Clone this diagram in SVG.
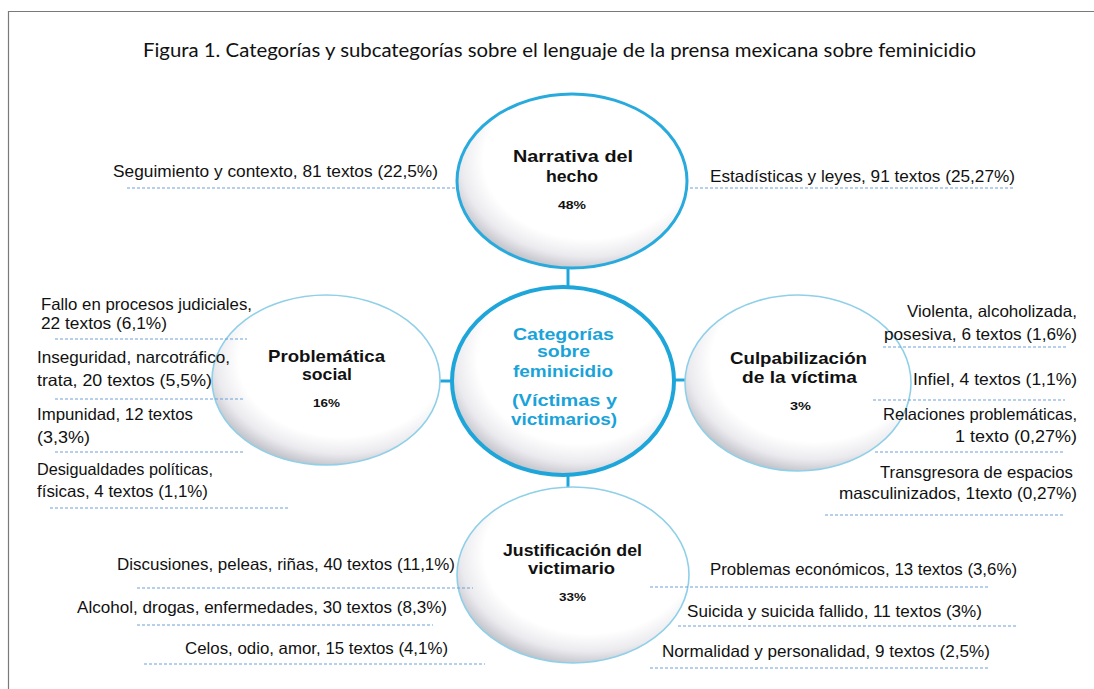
<svg xmlns="http://www.w3.org/2000/svg" width="1094" height="689" viewBox="0 0 1094 689">
<defs>
<radialGradient id="glow" cx="57%" cy="38%" r="63%">
<stop offset="0" stop-color="#ffffff"/>
<stop offset="0.72" stop-color="#ffffff"/>
<stop offset="0.88" stop-color="#ebebef"/>
<stop offset="1" stop-color="#c4c4cc"/>
</radialGradient>
<style>
.frame{fill:none;stroke:#7a7a7a;stroke-width:1.2}
.title{font-family:Lato,"Liberation Sans",sans-serif;font-size:18.5px;fill:#111}
.main{fill:url(#glow);stroke:#1ea6da;stroke-width:4}
.top{fill:url(#glow);stroke:#28aadd;stroke-width:3}
.sub{fill:url(#glow);stroke:#8fd0e8;stroke-width:1.6}
.conn{stroke:#1ea6da;stroke-width:3;fill:none}
.dash{stroke:#6f9fd8;stroke-width:1;stroke-dasharray:3 2;fill:none}
.lbl{font-family:"Liberation Sans",Arial,sans-serif;font-size:16.5px;fill:#111}
.head{font-family:"Liberation Sans",Arial,sans-serif;font-size:17px;font-weight:bold;fill:#111}
.headb{font-family:"Liberation Sans",Arial,sans-serif;font-size:16px;font-weight:bold;fill:#1aa3d9}
.pct{font-family:"Liberation Sans",Arial,sans-serif;font-size:11px;font-weight:bold;fill:#111}
</style>
</defs>
<rect width="1094" height="689" fill="#ffffff"/>
<path class="frame" d="M1094,11.5 H8.5 V689"/>
<text class="title" x="143" y="57" textLength="833" lengthAdjust="spacingAndGlyphs">Figura 1. Categorías y subcategorías sobre el lenguaje de la prensa mexicana sobre feminicidio</text>

<g id="subline-lines">
<line class="dash" x1="127" y1="188" x2="458" y2="188"/>
<line class="dash" x1="675" y1="188" x2="1013" y2="188"/>
</g>

<g id="connectors">
<line class="conn" x1="568" y1="266" x2="568" y2="290"/>
<line class="conn" x1="568" y1="474" x2="568" y2="489"/>
<line class="conn" x1="672" y1="380" x2="688" y2="380"/>
<line class="conn" x1="439" y1="381" x2="453" y2="381"/>
</g>

<g id="node-narrativa">
<ellipse class="top" cx="572" cy="181" rx="115" ry="87"/>
<text class="head" x="513" y="162" textLength="120" lengthAdjust="spacingAndGlyphs">Narrativa del</text>
<text class="head" x="546" y="182" textLength="52" lengthAdjust="spacingAndGlyphs">hecho</text>
<text class="pct" x="558" y="209" textLength="28" lengthAdjust="spacingAndGlyphs">48%</text>
</g>

<g id="node-problematica">
<ellipse class="sub" cx="326" cy="380" rx="114" ry="85"/>
<text class="head" x="268" y="362" textLength="117" lengthAdjust="spacingAndGlyphs">Problemática</text>
<text class="head" x="302" y="380" textLength="50" lengthAdjust="spacingAndGlyphs">social</text>
<text class="pct" x="313" y="407" textLength="27" lengthAdjust="spacingAndGlyphs">16%</text>
</g>

<g id="node-culpabilizacion">
<ellipse class="sub" cx="798" cy="383" rx="113" ry="88"/>
<text class="head" x="730" y="364" textLength="137" lengthAdjust="spacingAndGlyphs">Culpabilización</text>
<text class="head" x="742" y="383" textLength="115" lengthAdjust="spacingAndGlyphs">de la víctima</text>
<text class="pct" x="790" y="410" textLength="21" lengthAdjust="spacingAndGlyphs">3%</text>
</g>

<g id="node-justificacion">
<ellipse class="sub" cx="573" cy="575" rx="116" ry="88"/>
<text class="head" x="503" y="556" textLength="139" lengthAdjust="spacingAndGlyphs">Justificación del</text>
<text class="head" x="528" y="574" textLength="87" lengthAdjust="spacingAndGlyphs">victimario</text>
<text class="pct" x="559" y="601" textLength="27" lengthAdjust="spacingAndGlyphs">33%</text>
</g>

<g id="node-categorias">
<ellipse class="main" cx="563" cy="381" rx="111" ry="94"/>
<text class="headb" x="513" y="340" textLength="101" lengthAdjust="spacingAndGlyphs">Categorías</text>
<text class="headb" x="537" y="357" textLength="53" lengthAdjust="spacingAndGlyphs">sobre</text>
<text class="headb" x="513" y="377" textLength="100" lengthAdjust="spacingAndGlyphs">feminicidio</text>
<text class="headb" x="512" y="406" textLength="105" lengthAdjust="spacingAndGlyphs">(Víctimas y</text>
<text class="headb" x="511" y="425" textLength="106" lengthAdjust="spacingAndGlyphs">victimarios)</text>
</g>

<g id="labels-narrativa">
<text class="lbl" x="113" y="177" textLength="325" lengthAdjust="spacingAndGlyphs">Seguimiento y contexto, 81 textos (22,5%)</text>
<text class="lbl" x="710" y="182" textLength="305" lengthAdjust="spacingAndGlyphs">Estadísticas y leyes, 91 textos (25,27%)</text>
</g>

<g id="labels-problematica">
<text class="lbl" x="41" y="310" textLength="211" lengthAdjust="spacingAndGlyphs">Fallo en procesos judiciales,</text>
<text class="lbl" x="41" y="329" textLength="126" lengthAdjust="spacingAndGlyphs">22 textos (6,1%)</text>
<line class="dash" x1="55" y1="339" x2="247" y2="339"/>
<text class="lbl" x="37" y="363" textLength="193" lengthAdjust="spacingAndGlyphs">Inseguridad, narcotráfico,</text>
<text class="lbl" x="37" y="386" textLength="175" lengthAdjust="spacingAndGlyphs">trata, 20 textos (5,5%)</text>
<line class="dash" x1="55" y1="399" x2="245" y2="399"/>
<text class="lbl" x="37" y="420" textLength="156" lengthAdjust="spacingAndGlyphs">Impunidad, 12 textos</text>
<text class="lbl" x="37" y="443" textLength="53" lengthAdjust="spacingAndGlyphs">(3,3%)</text>
<line class="dash" x1="55" y1="452" x2="245" y2="452"/>
<text class="lbl" x="37" y="475" textLength="176" lengthAdjust="spacingAndGlyphs">Desigualdades políticas,</text>
<text class="lbl" x="37" y="497" textLength="171" lengthAdjust="spacingAndGlyphs">físicas, 4 textos (1,1%)</text>
<line class="dash" x1="50" y1="508" x2="290" y2="508"/>
</g>

<g id="labels-culpabilizacion">
<text class="lbl" x="907" y="317" textLength="170" lengthAdjust="spacingAndGlyphs">Violenta, alcoholizada,</text>
<text class="lbl" x="884" y="340" textLength="193" lengthAdjust="spacingAndGlyphs">posesiva, 6 textos (1,6%)</text>
<line class="dash" x1="883" y1="347" x2="1067" y2="347"/>
<text class="lbl" x="913" y="385" textLength="164" lengthAdjust="spacingAndGlyphs">Infiel, 4 textos (1,1%)</text>
<line class="dash" x1="873" y1="400" x2="1065" y2="400"/>
<text class="lbl" x="883" y="420" textLength="194" lengthAdjust="spacingAndGlyphs">Relaciones problemáticas,</text>
<text class="lbl" x="955" y="442" textLength="122" lengthAdjust="spacingAndGlyphs">1 texto (0,27%)</text>
<line class="dash" x1="875" y1="452" x2="1065" y2="452"/>
<text class="lbl" x="880" y="478" textLength="193" lengthAdjust="spacingAndGlyphs">Transgresora de espacios</text>
<text class="lbl" x="839" y="499" textLength="238" lengthAdjust="spacingAndGlyphs">masculinizados, 1texto (0,27%)</text>
<line class="dash" x1="825" y1="515" x2="1065" y2="515"/>
</g>

<g id="labels-justificacion">
<text class="lbl" x="117" y="570" textLength="338" lengthAdjust="spacingAndGlyphs">Discusiones, peleas, riñas, 40 textos (11,1%)</text>
<line class="dash" x1="137" y1="588" x2="473" y2="588"/>
<text class="lbl" x="77" y="613" textLength="370" lengthAdjust="spacingAndGlyphs">Alcohol, drogas, enfermedades, 30 textos (8,3%)</text>
<line class="dash" x1="137" y1="625" x2="433" y2="625"/>
<text class="lbl" x="185" y="654" textLength="263" lengthAdjust="spacingAndGlyphs">Celos, odio, amor, 15 textos (4,1%)</text>
<line class="dash" x1="144" y1="664" x2="485" y2="664"/>
<text class="lbl" x="710" y="575" textLength="307" lengthAdjust="spacingAndGlyphs">Problemas económicos, 13 textos (3,6%)</text>
<line class="dash" x1="650" y1="587" x2="988" y2="587"/>
<text class="lbl" x="687" y="617" textLength="295" lengthAdjust="spacingAndGlyphs">Suicida y suicida fallido, 11 textos (3%)</text>
<line class="dash" x1="678" y1="626" x2="1016" y2="626"/>
<text class="lbl" x="662" y="657" textLength="328" lengthAdjust="spacingAndGlyphs">Normalidad y personalidad, 9 textos (2,5%)</text>
<line class="dash" x1="650" y1="668" x2="988" y2="668"/>
</g>
</svg>
